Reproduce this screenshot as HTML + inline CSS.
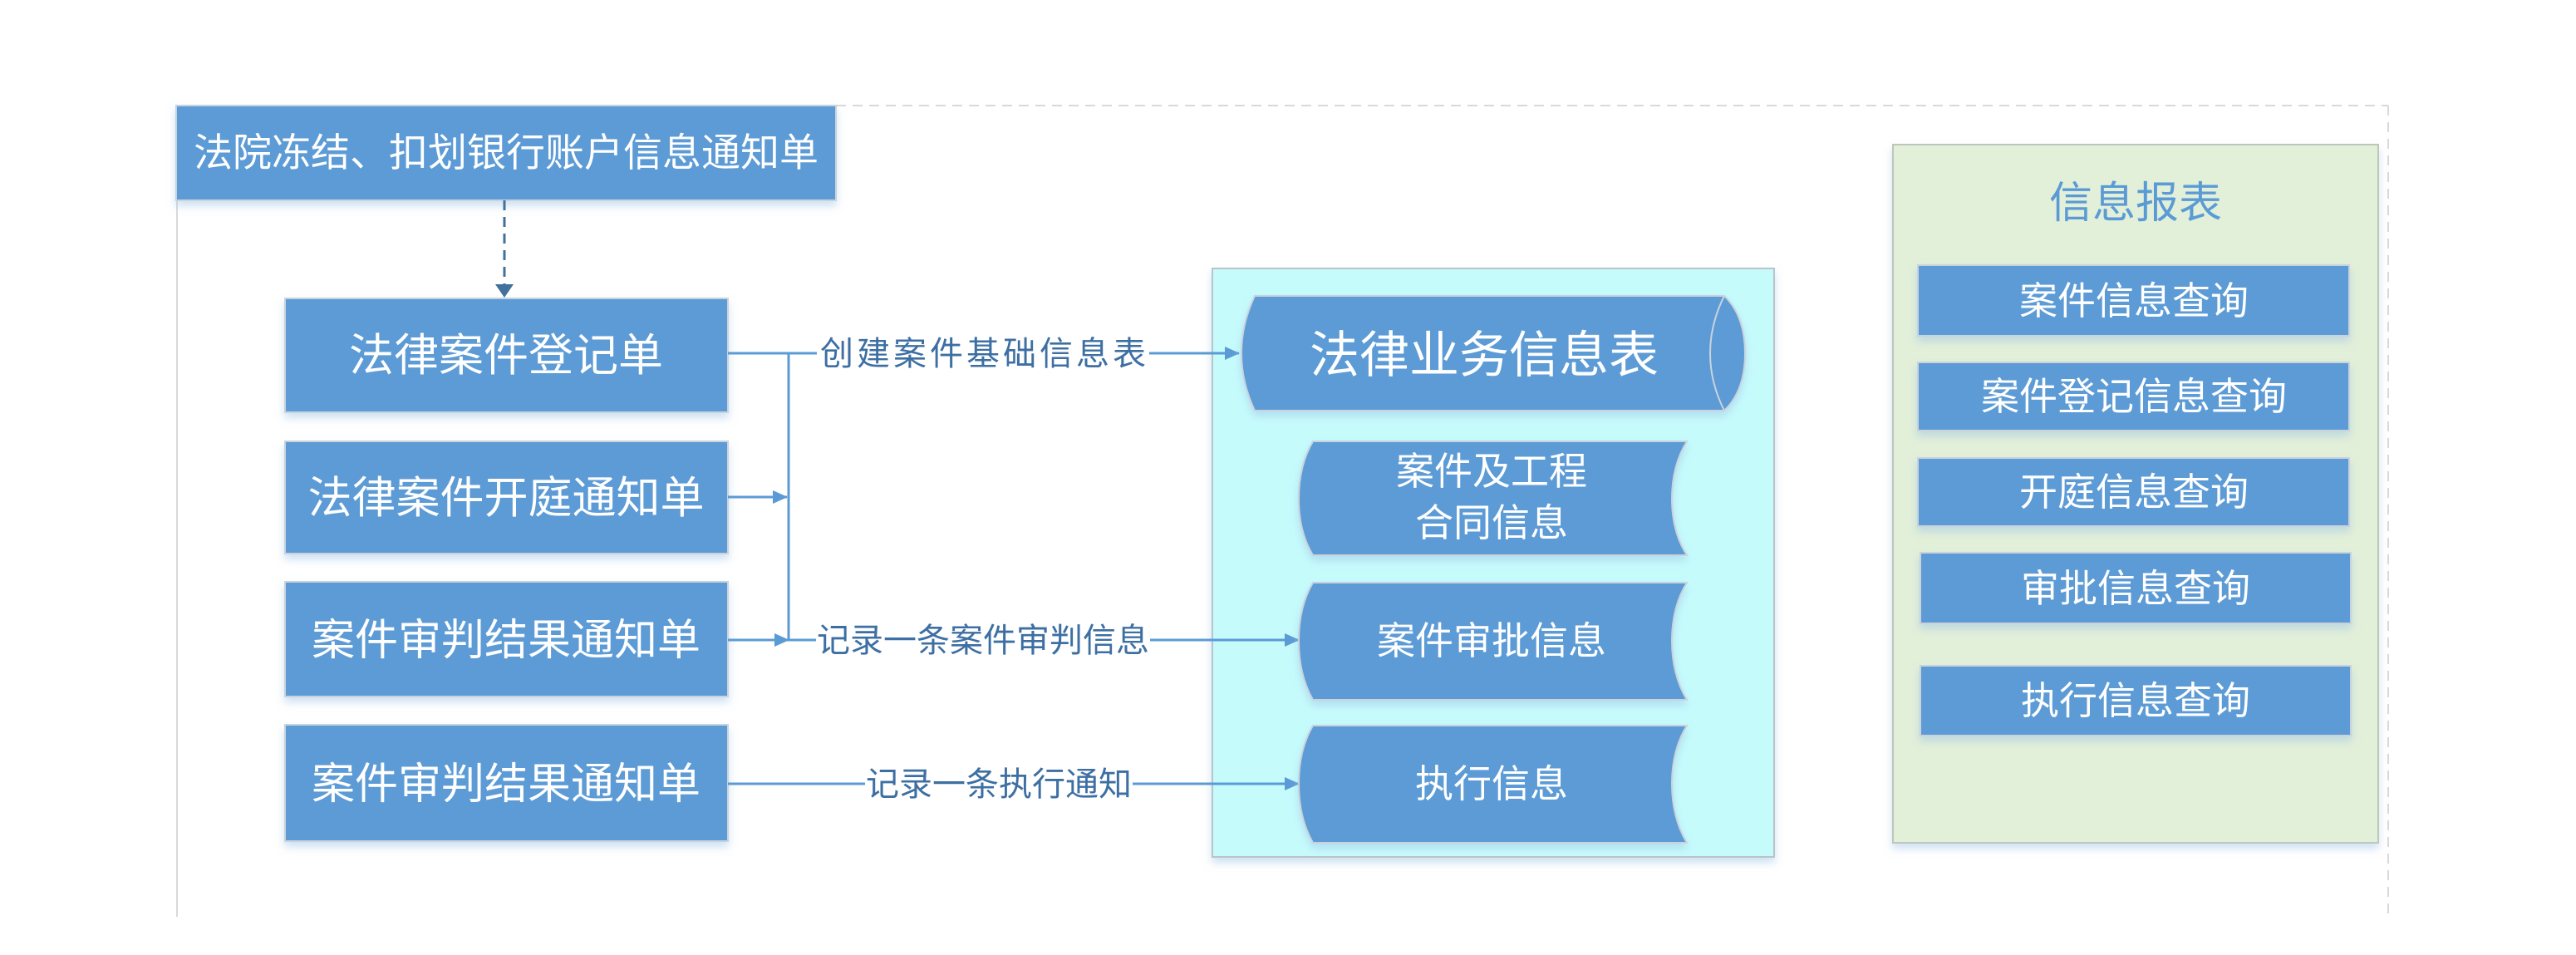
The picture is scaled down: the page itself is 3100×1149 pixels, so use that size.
<!DOCTYPE html>
<html><head><meta charset="utf-8"><style>
html,body{margin:0;padding:0;background:#fff;}
svg{display:block}
text{font-family:"Liberation Sans","Noto Sans CJK SC",sans-serif;}
</style></head><body>
<svg width="3100" height="1149" viewBox="0 0 3100 1149" xmlns="http://www.w3.org/2000/svg">
<defs>
<marker id="ah" markerWidth="18" markerHeight="16" refX="17" refY="8" orient="auto" markerUnits="userSpaceOnUse" viewBox="0 0 18 16"><path d="M0,0 L18,8 L0,16z" fill="#5b9bd5"/></marker>
<marker id="ahd" markerWidth="16" markerHeight="22" refX="15" refY="11" orient="auto" markerUnits="userSpaceOnUse" viewBox="0 0 16 22"><path d="M0,0 L16,11 L0,22z" fill="#41719c"/></marker>
<filter id="sh" x="-5%" y="-5%" width="110%" height="130%"><feDropShadow dx="0" dy="6" stdDeviation="5" flood-color="#9dc3e6" flood-opacity="0.5"/></filter>
</defs>
<line x1="1006" y1="127" x2="2874" y2="127" stroke="#d9d9d9" stroke-width="2" stroke-dasharray="12,8"/>
<line x1="2874" y1="127" x2="2874" y2="1103" stroke="#d9d9d9" stroke-width="2" stroke-dasharray="12,8"/>
<line x1="213" y1="241" x2="213" y2="1103" stroke="#d9d9d9" stroke-width="2"/>

<g fill="#5b9bd5" stroke="#c9d3dc" stroke-width="2" filter="url(#sh)">
<rect x="212" y="127" width="794" height="114"/>
<rect x="343" y="359" width="533" height="137"/>
<rect x="343" y="531" width="533" height="135"/>
<rect x="343" y="700" width="533" height="138"/>
<rect x="343" y="872" width="533" height="140"/>
</g>
<g fill="#fff" font-size="47" text-anchor="middle">
<text x="609" y="200">法院冻结、扣划银行账户信息通知单</text>
<text x="609" y="446" font-size="54">法律案件登记单</text>
<text x="609" y="617" font-size="53">法律案件开庭通知单</text>
<text x="609" y="788" font-size="52">案件审判结果通知单</text>
<text x="609" y="961" font-size="52">案件审判结果通知单</text>
</g>

<line x1="607" y1="241" x2="607" y2="357" stroke="#41719c" stroke-width="3" stroke-dasharray="12,8" marker-end="url(#ahd)"/>

<rect x="1459" y="323" width="676" height="708" fill="#c6fbfc" stroke="#b9c4c8" stroke-width="2" filter="url(#sh)"/>
<rect x="2278" y="174" width="584" height="840" fill="#e2efd9" stroke="#bfc6bb" stroke-width="2" filter="url(#sh)"/>

<g stroke="#5b9bd5" stroke-width="3" fill="none">
<polyline points="876,425 1491,425" marker-end="url(#ah)"/>
<line x1="949" y1="425" x2="949" y2="770"/>
<line x1="876" y1="598" x2="947" y2="598" marker-end="url(#ah)"/>
<line x1="876" y1="770" x2="949" y2="770" marker-end="url(#ah)"/>
<line x1="949" y1="770" x2="1563" y2="770" marker-end="url(#ah)"/>
<line x1="876" y1="943" x2="1563" y2="943" marker-end="url(#ah)"/>
</g>
<g font-size="40" fill="#3d6fa3" text-anchor="middle">
<rect x="983" y="402" width="400" height="46" fill="#fff"/>
<text x="1185" y="439" letter-spacing="4">创建案件基础信息表</text>
<rect x="982" y="747" width="402" height="46" fill="#fff"/>
<text x="1183" y="784">记录一条案件审判信息</text>
<rect x="1041" y="920" width="322" height="46" fill="#fff"/>
<text x="1202" y="957">记录一条执行通知</text>
</g>

<g filter="url(#sh)">
<path d="M1510,356 L2075,356 Q2100,380 2100,425 Q2100,470 2075,494 L1510,494 Q1494,460 1494,425 Q1494,390 1510,356 Z" fill="#5b9bd5" stroke="#c9d3dc" stroke-width="2"/>
</g>
<path d="M2075,356 Q2058,390 2058,425 Q2058,460 2075,494" fill="none" stroke="#c9d3dc" stroke-width="2"/>
<text x="1786" y="448" font-size="60" fill="#fff" text-anchor="middle">法律业务信息表</text>

<g fill="#5b9bd5" stroke="#c9d3dc" stroke-width="2" filter="url(#sh)">
<path d="M1580,531 L2030,531 Q2012,560 2012,600 Q2012,640 2030,668 L1580,668 Q1563,640 1563,600 Q1563,560 1580,531 Z"/>
<path d="M1580,701 L2030,701 Q2012,730 2012,771 Q2012,812 2030,842 L1580,842 Q1563,812 1563,771 Q1563,730 1580,701 Z"/>
<path d="M1580,873 L2030,873 Q2012,902 2012,943 Q2012,984 2030,1014 L1580,1014 Q1563,984 1563,943 Q1563,902 1580,873 Z"/>
</g>
<g fill="#fff" font-size="46" text-anchor="middle">
<text x="1795" y="583">案件及工程</text>
<text x="1795" y="645">合同信息</text>
<text x="1795" y="787">案件审批信息</text>
<text x="1795" y="959">执行信息</text>
</g>

<text x="2570" y="262" font-size="52" fill="#5b9bd5" text-anchor="middle">信息报表</text>
<g fill="#5b9bd5" stroke="#c9d3dc" stroke-width="2" filter="url(#sh)">
<rect x="2308" y="319" width="519" height="85"/>
<rect x="2308" y="436" width="519" height="82"/>
<rect x="2308" y="551" width="519" height="82"/>
<rect x="2311" y="665" width="518" height="85"/>
<rect x="2311" y="801" width="518" height="84"/>
</g>
<g fill="#fff" font-size="46" text-anchor="middle">
<text x="2568" y="378">案件信息查询</text>
<text x="2568" y="493">案件登记信息查询</text>
<text x="2568" y="608">开庭信息查询</text>
<text x="2570" y="724">审批信息查询</text>
<text x="2570" y="859">执行信息查询</text>
</g>
</svg>
</body></html>
